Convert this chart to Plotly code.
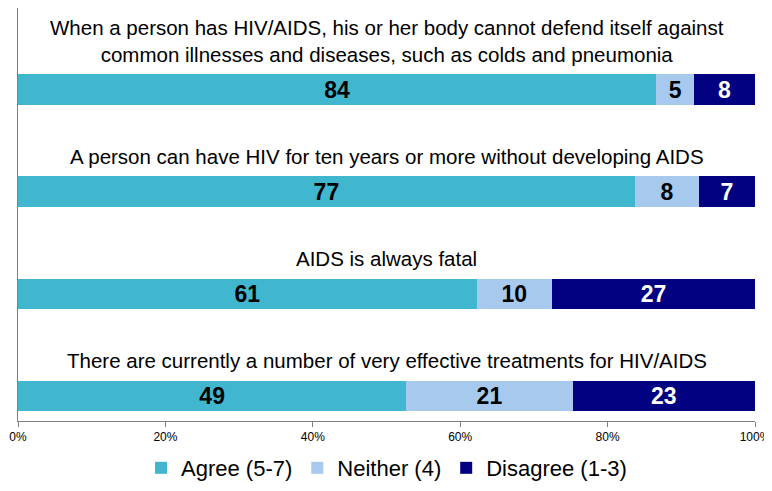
import plotly.graph_objects as go

statements = [
    "When a person has HIV/AIDS, his or her body cannot defend itself against<br>common illnesses and diseases, such as colds and pneumonia",
    "A person can have HIV for ten years or more without developing AIDS",
    "AIDS is always fatal",
    "There are currently a number of very effective treatments for HIV/AIDS",
]
cats = ["S1", "S2", "S3", "S4"]
agree = [84, 77, 61, 49]
neither = [5, 8, 10, 21]
disagree = [8, 7, 27, 23]
series_names = ["Agree (5-7)", "Neither (4)", "Disagree (1-3)"]
colors = ["#40B7CF", "#A8C9EE", "#000080"]
text_colors = ["black", "black", "white"]
tick_vals = [0, 20, 40, 60, 80, 100]
tick_text = ["0%", "20%", "40%", "60%", "80%", "100%"]

FONT = "Liberation Sans Narrow, Arial Narrow, Liberation Sans, Arial, sans-serif"

fig = go.Figure()
for name, vals, col, tcol in zip(series_names, [agree, neither, disagree], colors, text_colors):
    fig.add_trace(go.Bar(
        y=cats, x=vals, name=name, orientation="h",
        marker=dict(color=col, line=dict(width=0)),
        text=vals, textposition="inside", insidetextanchor="middle",
        textangle=0, constraintext="none",
        textfont=dict(family=FONT, size=23, color=tcol, weight="bold"),
        hoverinfo="skip",
    ))

for c, s in zip(cats, statements):
    fig.add_annotation(x=0.5, xref="paper", y=c, yref="y", text=s, showarrow=False,
                       yanchor="bottom", yshift=22, font=dict(family=FONT, size=20.5, color="black"),
                       align="center")

fig.update_layout(
    barmode="stack", barnorm="percent", bargap=0.7,
    width=772, height=491,
    margin=dict(l=10, r=25, t=0, b=78),
    plot_bgcolor="white", paper_bgcolor="white",
    showlegend=True,
    legend=dict(orientation="h", x=0.5, xanchor="center", y=-0.063, yanchor="top",
                font=dict(family=FONT, size=22, color="black"), itemwidth=30,
                traceorder="normal"),
    xaxis=dict(range=[0, 100], tickvals=tick_vals, ticktext=tick_text, showgrid=False,
               showline=True, linecolor="#808080", linewidth=1, ticks="outside", ticklen=5,
               tickcolor="#808080", tickfont=dict(family=FONT, size=12, color="black"),
               zeroline=False, fixedrange=True),
    yaxis=dict(range=[3.245, -0.80], showticklabels=False, showgrid=False, showline=True,
               linecolor="#808080", linewidth=1, ticks="", zeroline=False, fixedrange=True),
)

fig.write_html("out.html")
